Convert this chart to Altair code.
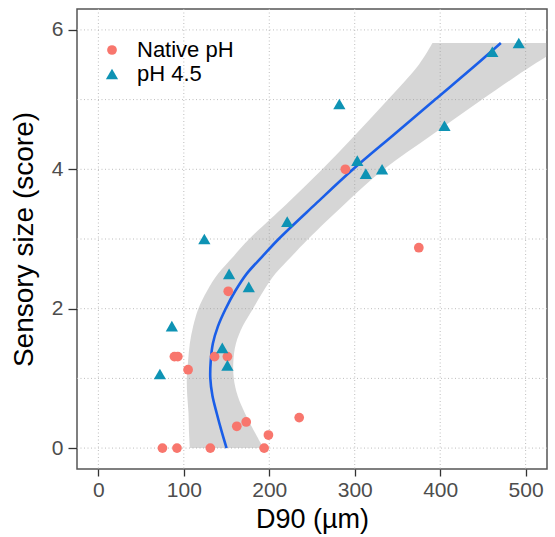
import pandas as pd
import altair as alt

# Measured particle size (D90, µm) and sensory size score per sample
native_d90 = [75, 92, 131, 194, 199, 162, 173, 235, 105, 89, 93, 136, 151, 152, 289, 375]
native_score = [0, 0, 0, 0, 0.1875, 0.3125, 0.375, 0.4375, 1.125, 1.3125, 1.3125,
                1.3125, 1.3125, 2.25, 4.0, 2.875]
ph45_d90 = [72, 86, 145, 151, 153, 176, 124, 221, 282, 303, 313, 332, 405, 461, 492]
ph45_score = [1.0625, 1.75, 1.4375, 1.1875, 2.5, 2.3125, 3.0, 3.25, 4.9375, 4.125,
              3.9375, 4.0, 4.625, 5.6875, 5.8125]

# Smoothed D90 trend along the score axis, with its 95% half-width
smooth_score = [0, 0.25, 0.5, 0.75, 1.0, 1.25, 1.5, 1.75, 2.0, 2.25, 2.5, 2.75, 3.0,
                3.5, 4.0, 4.5, 5.0, 5.5, 5.8125]
smooth_d90 = [150, 144, 138.5, 133.5, 131, 131.5, 134, 140, 149, 160, 173.5, 192, 211,
              254, 298, 346, 394, 442, 471]
smooth_halfwidth = [43, 38, 33, 29.5, 27.5, 26.5, 27, 29, 32, 33, 33.5, 34, 34.5, 34,
                    36, 45, 55, 67, 80]

groups = ["Native pH", "pH 4.5"]
group_colors = ["#F8766D", "#0E93B4"]
x_grid = [0, 100, 200, 300, 400, 500]
y_grid = [0, 1, 2, 3, 4, 5, 6]
x_ticks = [0, 100, 200, 300, 400, 500]
y_ticks = [0, 2, 4, 6]

points = pd.DataFrame({
    "d90": native_d90 + ph45_d90,
    "score": native_score + ph45_score,
    "group": [groups[0]] * len(native_d90) + [groups[1]] * len(ph45_d90),
})

smooth = pd.DataFrame({"score": smooth_score, "fit": smooth_d90, "hw": smooth_halfwidth})
smooth["lo"] = smooth["fit"] - smooth["hw"]
smooth["hi"] = smooth["fit"] + smooth["hw"]

xscale = alt.Scale(domain=[-25, 525], nice=False, zero=False)
yscale = alt.Scale(domain=[-0.3, 6.3], nice=False, zero=False)
FONT = "Liberation Sans"

x_axis = alt.Axis(values=x_ticks, grid=False, domain=False, tickSize=7, tickWidth=1.3,
                  tickColor="#333333", labelColor="#4D4D4D", labelFontSize=21,
                  labelFont=FONT, labelPadding=3, title="D90 (µm)", titleFont=FONT,
                  titleFontSize=27, titleFontWeight="normal", titleColor="black",
                  titlePadding=6)
y_axis = alt.Axis(values=y_ticks, format="d", grid=False, domain=False, tickSize=9,
                  tickWidth=1.3, tickColor="#333333", labelColor="#4D4D4D",
                  labelFontSize=21, labelFont=FONT, labelPadding=5,
                  title="Sensory size (score)", titleFont=FONT, titleFontSize=28,
                  titleFontWeight="normal", titleColor="black", titlePadding=13)

vgrid = alt.Chart(pd.DataFrame({"v": x_grid})).mark_rule(
    color="#BDBDBD", strokeWidth=1, strokeDash=[1, 2.5]
).encode(x=alt.X("v:Q", scale=xscale, axis=x_axis))

hgrid = alt.Chart(pd.DataFrame({"v": y_grid})).mark_rule(
    color="#BDBDBD", strokeWidth=1, strokeDash=[1, 2.5]
).encode(y=alt.Y("v:Q", scale=yscale, axis=y_axis))

band = alt.Chart(smooth).mark_area(orient="horizontal", color="#999999", opacity=0.4,
                                   clip=True, interpolate="catmull-rom").encode(
    y=alt.Y("score:Q", scale=yscale),
    x=alt.X("lo:Q", scale=xscale),
    x2="hi:Q",
)

line = alt.Chart(smooth).mark_line(color="#1A5EE8", strokeWidth=2.6, clip=True,
                                   interpolate="catmull-rom").encode(
    y=alt.Y("score:Q", scale=yscale),
    x=alt.X("fit:Q", scale=xscale),
    order="score:Q",
)

legend = alt.Legend(title=None, orient="none", legendX=24, legendY=30, labelFont=FONT,
                    labelFontSize=22, labelColor="black", symbolSize=150,
                    labelOffset=14, rowPadding=2, padding=0)

pts = alt.Chart(points).mark_point(filled=True, opacity=1, strokeWidth=0).encode(
    x=alt.X("d90:Q", scale=xscale),
    y=alt.Y("score:Q", scale=yscale),
    color=alt.Color("group:N", scale=alt.Scale(domain=groups, range=group_colors),
                    legend=legend),
    shape=alt.Shape("group:N", scale=alt.Scale(domain=groups,
                                                range=["circle", "triangle-up"]),
                    legend=legend),
    size=alt.Size("group:N", scale=alt.Scale(domain=groups, range=[95, 150]),
                  legend=None),
)

chart = alt.layer(vgrid, hgrid, band, line, pts).properties(
    width=470, height=460,
    autosize=alt.AutoSizeParams(type="none"),
    padding={"left": 77, "top": 9, "right": 8, "bottom": 68},
    background="white",
).configure_view(stroke="#555555", strokeWidth=1.5)

chart.save("out.html", embed_options={"renderer": "svg", "actions": False})
